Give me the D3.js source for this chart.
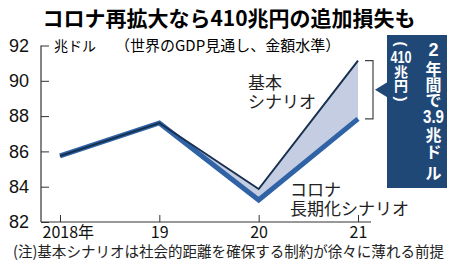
<!DOCTYPE html>
<html>
<head>
<meta charset="utf-8">
<script src="https://cdn.jsdelivr.net/npm/d3@7"></script>
<style>
  body { margin: 0; background: #fff; }
  svg { display: block; }
  text { font-family: "Noto Sans CJK JP", sans-serif; }
  .num { font-family: "Liberation Sans Narrow", "Liberation Sans", sans-serif; }
</style>
</head>
<body>
<svg id="chart" width="450" height="264"></svg>
<script>
// data
const years = ['2018', '2019', '2020', '2021'];
const yearLabels = ['2018年', '19', '20', '21'];
const baseValues = [85.74, 87.61, 83.87, 91.14];
const coronaValues = [85.74, 87.61, 83.25, 87.84];
const yTicks = [82, 84, 86, 88, 90, 92];

const svg = d3.select('#chart');

const x = d3.scalePoint().domain(years).range([60, 358]);
const y = d3.scaleLinear().domain([82, 92]).range([222, 45.5]);

// title
svg.append('text')
    .attr('x', 229).attr('y', 26)
    .attr('text-anchor', 'middle')
    .style('font-size', '21px').style('font-weight', 700)
    .text('コロナ再拡大なら410兆円の追加損失も');

svg.append('text')
    .attr('x', 115).attr('y', 51)
    .style('font-size', '15px')
    .text('（世界のGDP見通し、金額水準）');

svg.append('text')
    .attr('x', 54).attr('y', 51)
    .style('font-size', '14px')
    .text('兆ドル');

// axes
const yAxis = d3.axisLeft(y).tickValues(yTicks).tickSize(-8).tickPadding(12);
const gy = svg.append('g').attr('transform', 'translate(41,0)').call(yAxis);
gy.select('.domain').attr('stroke', '#333').attr('stroke-width', 1.2).attr('d', `M0,${y(92)}V${y(82)}`);
gy.selectAll('.tick line').attr('stroke', '#333');
gy.selectAll('.tick text')
    .attr('class', 'num')
    .style('font-size', '18px').attr('fill', '#111');

const xAxis = d3.axisBottom(x).tickSize(-7).tickPadding(5).tickFormat((d, i) => yearLabels[i]);
const gx = svg.append('g').attr('transform', `translate(0,${y(82)})`).call(xAxis);
gx.select('.domain').attr('stroke', '#333').attr('stroke-width', 1.2).attr('d', 'M41,0H371');
gx.selectAll('.tick line').attr('stroke', '#333');
gx.selectAll('.tick text')
    .style('font-size', '16px').attr('fill', '#111')
    .attr('text-anchor', 'start')
    .attr('dx', (d, i) => i === 0 ? -18 : -9);

// fill between scenarios
const rows = years.map((d, i) => ({ year: d, base: baseValues[i], corona: coronaValues[i] }));
svg.append('path')
    .datum(rows)
    .attr('fill', '#c4cde2')
    .attr('d', d3.area().x(d => x(d.year)).y0(d => y(d.corona)).y1(d => y(d.base)));

const line = key => d3.line().x(d => x(d.year)).y(d => y(d[key]));

svg.append('path')
    .datum(rows)
    .attr('fill', 'none')
    .attr('stroke', '#2f63a6')
    .attr('stroke-width', 5)
    .attr('d', line('corona'));

svg.append('path')
    .datum(rows)
    .attr('fill', 'none')
    .attr('stroke', '#18304f')
    .attr('stroke-width', 2)
    .attr('d', line('base'));

// scenario labels
const baseLbl = svg.append('text').style('font-size', '17px').attr('fill', '#222');
baseLbl.append('tspan').attr('x', 248).attr('y', 89).text('基本');
baseLbl.append('tspan').attr('x', 248).attr('y', 108).text('シナリオ');

const corLbl = svg.append('text').style('font-size', '17px').attr('fill', '#222');
corLbl.append('tspan').attr('x', 290).attr('y', 196).text('コロナ');
corLbl.append('tspan').attr('x', 290).attr('y', 215).text('長期化シナリオ');

// bracket for the 2021 gap
const last = rows[rows.length - 1];
const bx = 373;
svg.append('path')
    .attr('fill', 'none')
    .attr('stroke', '#444')
    .attr('stroke-width', 1.2)
    .attr('d', `M365,${y(last.base)}H${bx}V${y(last.corona)}H365`);

// callout box
const boxColor = '#1f4877';
svg.append('rect')
    .attr('x', 387).attr('y', 35).attr('width', 60).attr('height', 153)
    .attr('fill', boxColor);
const midY = (y(last.base) + y(last.corona)) / 2;
svg.append('path')
    .attr('fill', boxColor)
    .attr('d', `M388,${midY - 8}L375,${midY}L388,${midY + 8}Z`);

// vertical text columns
const rightCol = ['2', '年', '間', 'で', '3.9', '兆', 'ド', 'ル'];
const rightY = [50, 68, 84, 99, 117, 134, 151, 172];
const leftCol = ['(', '410', '兆', '円', ')'];
const leftY = [44, 57, 71, 85, 99];

function drawColumn(glyphs, ys, cx, size) {
    glyphs.forEach((g, i) => {
        const t = svg.append('text')
            .attr('x', cx).attr('y', ys[i])
            .attr('text-anchor', 'middle')
            .attr('dominant-baseline', 'central')
            .attr('fill', '#fff')
            .style('font-weight', 700)
            .style('font-size', size + 'px')
            .text(g);
        if (/\d/.test(g)) {
            t.attr('class', 'num').style('font-size', (size + 2) + 'px');
            if (g.length > 2) t.attr('textLength', 21).attr('lengthAdjust', 'spacingAndGlyphs');
            else if (g.length > 1) t.attr('textLength', 18).attr('lengthAdjust', 'spacingAndGlyphs');
        }
        if (g === '(' || g === ')') {
            t.attr('class', 'num').style('font-size', '15px')
                .attr('transform', `rotate(90,${cx},${ys[i]})`);
        }
    });
}
drawColumn(rightCol, rightY, 433.5, 16);
drawColumn(leftCol, leftY, 401, 14);

// note
svg.append('text')
    .attr('x', 13).attr('y', 257)
    .attr('textLength', 431).attr('lengthAdjust', 'spacingAndGlyphs')
    .style('font-size', '15px').attr('fill', '#222')
    .text('(注)基本シナリオは社会的距離を確保する制約が徐々に薄れる前提');
</script>
</body>
</html>
